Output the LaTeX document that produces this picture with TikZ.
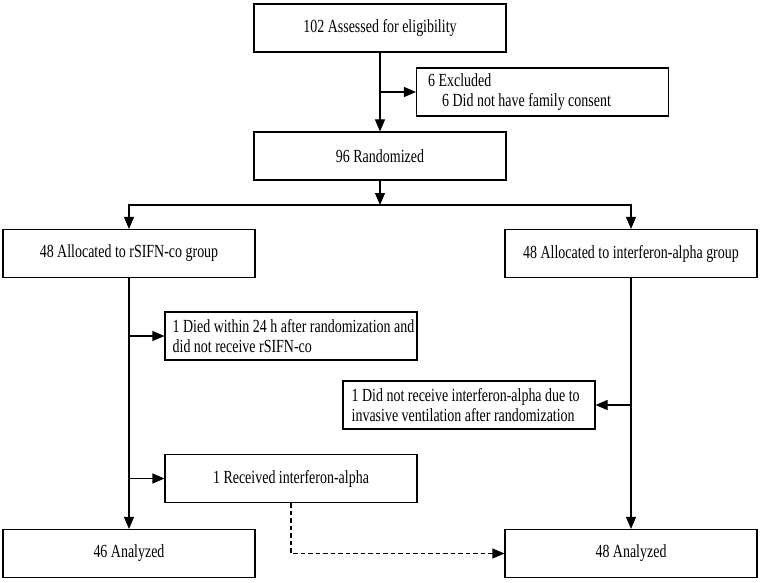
\documentclass[tikz,border=0pt]{standalone}
\usepackage{fontspec}
\setmainfont{Liberation Serif}[FakeStretch=0.755]
\usetikzlibrary{arrows.meta}
\begin{document}
\begin{tikzpicture}[x=1pt,y=-1pt,
  box/.style={draw,line width=1.1pt,minimum width=252pt,minimum height=48pt,inner sep=0pt,
    font=\fontsize{18.5}{19.3}\selectfont,align=center},
  txt/.style={inner sep=0pt,font=\fontsize{18.5}{19.3}\selectfont,align=left,anchor=west},
  arr/.style={line width=1.1pt,-{Triangle[length=12pt,width=10pt]}}]
\useasboundingbox (0,0) rectangle (760,583);
\node[box] (top) at (380,28) {102 Assessed for eligibility};
\node[box] (excl) at (542.5,92) {};
\node[txt] (exclt) at ([xshift=12pt]excl.west) {6 Excluded\\\hspace*{14pt}6 Did not have family consent};
\node[box] (rand) at (380,156) {96 Randomized};
\node[box] (allocL) at (129,253.5) {48 Allocated to rSIFN-co group};
\node[box] (allocR) at (631,253.5) {48 Allocated to interferon-alpha group};
\node[box] (died) at (291,336) {};
\node[txt] (diedt) at ([xshift=8pt]died.west) {1 Died within 24 h after randomization and\\did not receive rSIFN-co};
\node[box] (dnr) at (469,405) {};
\node[txt] (dnrt) at ([xshift=9pt]dnr.west) {1 Did not receive interferon-alpha due to\\invasive ventilation after randomization};
\node[box] (recv) at (291,478.5) {1 Received interferon-alpha};
\node[box] (anaL) at (129,553.5) {46 Analyzed};
\node[box] (anaR) at (631,553.5) {48 Analyzed};
\coordinate (split) at (380,205);
\draw[arr] (top.south) -- (rand.north);
\draw[arr] (top.south |- excl.west) -- (excl.west);
\draw[arr] (rand.south) -- (split);
\draw[arr] (split) -| (allocL.north);
\draw[arr] (split) -| (allocR.north);
\draw[arr] (allocL.south) -- (anaL.north);
\draw[arr] (allocL.south |- died.west) -- (died.west);
\draw[arr] (allocL.south |- recv.west) -- (recv.west);
\draw[arr] (allocR.south) -- (anaR.north);
\draw[arr] (allocR.south |- dnr.east) -- (dnr.east);
\draw[arr,dash pattern=on 4.5pt off 3pt] (recv.south) |- (anaR.west);
\end{tikzpicture}
\end{document}
